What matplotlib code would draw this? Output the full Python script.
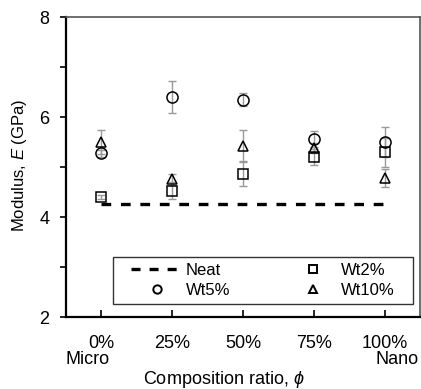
import matplotlib
matplotlib.use("Agg")
import matplotlib.pyplot as plt
from matplotlib.lines import Line2D
from matplotlib.patches import Rectangle
import numpy as np

plt.rcParams['font.family'] = ['Liberation Sans', 'DejaVu Sans']
plt.rcParams['mathtext.fontset'] = 'custom'
plt.rcParams['mathtext.it'] = 'Liberation Sans:italic'
plt.rcParams['lines.scale_dashes'] = False

categories = ['0%', '25%', '50%', '75%', '100%']
neat = 4.27
wt2 = [4.41, 4.53, 4.86, 5.21, 5.30]
wt2_err = [0.04, 0.17, 0.25, 0.16, 0.29]
wt5 = [5.28, 6.40, 6.35, 5.57, 5.50]
wt5_err = [0.07, 0.32, 0.13, 0.16, 0.30]
wt10 = [5.51, 4.76, 5.43, 5.39, 4.78]
wt10_err = [0.24, 0.11, 0.32, 0.10, 0.18]

fig = plt.figure(figsize=(4.21, 3.89), dpi=100)
ax = fig.add_axes([66/421, 1-317/389, 354/421, 300/389])

x = np.arange(len(categories))
ax.plot([x[0], x[-1]], [neat, neat], color='black', lw=2.4, dashes=(7, 7), zorder=1)

ekw = dict(fmt='none', ecolor='#999999', elinewidth=1.0, capsize=2.8, capthick=1.0, zorder=2)
ax.errorbar(x, wt10, yerr=wt10_err, **ekw)
ax.errorbar(x, wt5, yerr=wt5_err, **ekw)
ax.errorbar(x, wt2, yerr=wt2_err, **ekw)

mkw = dict(ls='none', mfc='none', mec='black', mew=1.1, zorder=3)
ax.plot(x, wt10, marker='^', ms=7.5, **mkw)
ax.plot(x, wt5, marker='o', ms=8, **mkw)
ax.plot(x, wt2, marker='s', ms=7, **mkw)

ax.set_xlim(-0.5, 4.5)
ax.set_ylim(2, 8)
ax.set_xticks(x)
ax.set_xticklabels(categories, fontsize=13)
ax.set_yticks([2, 4, 6, 8])
ax.set_yticks([3, 5, 7], minor=True)
ax.tick_params(axis='y', which='both', direction='out', length=4, width=1.2, labelsize=13, pad=8)
ax.tick_params(axis='x', direction='in', length=5, width=1.2, pad=13)

for s in ['left', 'bottom']:
    ax.spines[s].set_linewidth(1.6)
    ax.spines[s].set_color('black')
for s in ['top', 'right']:
    ax.spines[s].set_linewidth(1.2)
    ax.spines[s].set_color('#555555')

fig.text(88/421, 1-360/389, 'Micro', fontsize=13, ha='center', va='center')
fig.text(397/421, 1-360/389, 'Nano', fontsize=13, ha='center', va='center')

fig.text(20/421, 1-165/389, 'Modulus, $E$ (GPa)', fontsize=12, rotation=90,
         ha='center', va='center')
fig.text(224/421, 1-379/389, r'Composition ratio, $\phi$', fontsize=13, ha='center', va='center')

# legend frame
ax.add_patch(Rectangle(((113-66)/354, (317-304)/300), 300/354, 47/300,
                       transform=ax.transAxes, fill=False, ec='#333333', lw=1.0, zorder=4))

handles = [
    Line2D([], [], color='black', lw=2.4, dashes=(6.5, 6.5)),
    Line2D([], [], marker='o', ms=6, mfc='none', mec='black', mew=1.4, ls='none'),
    Line2D([], [], marker='s', ms=6, mfc='none', mec='black', mew=1.4, ls='none'),
    Line2D([], [], marker='^', ms=6, mfc='none', mec='black', mew=1.4, ls='none'),
]
labels = ['Neat', 'Wt5%', 'Wt2%', 'Wt10%']
leg = ax.legend(handles, labels, ncol=2, loc='center',
                bbox_to_anchor=((263-66)/354, (317-280.5)/300),
                fontsize=12, frameon=False,
                handlelength=3.1, handletextpad=0.15, borderaxespad=0, labelspacing=0.3,
                borderpad=0.0, columnspacing=3.4)

fig.savefig('out.png', dpi=100)
